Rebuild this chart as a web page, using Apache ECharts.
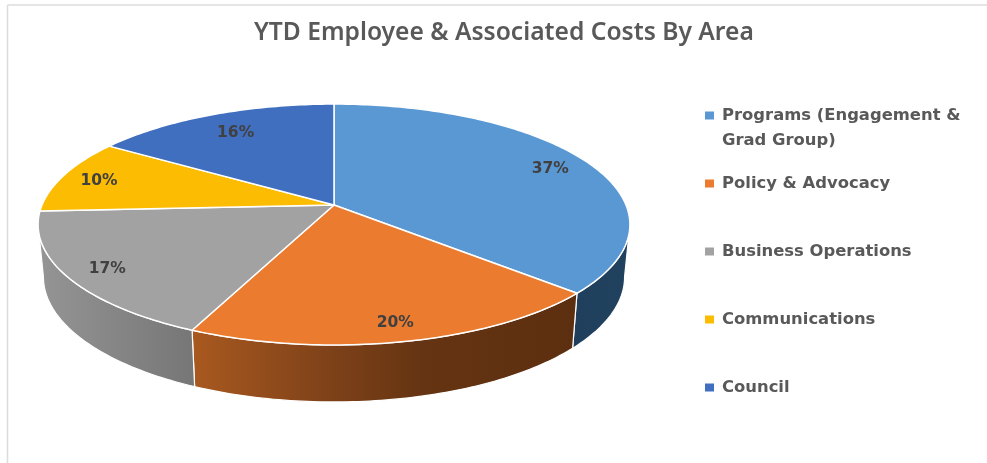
<!DOCTYPE html>
<html>
<head>
<meta charset="utf-8">
<style>html,body{margin:0;padding:0;background:#fff}#c{width:987px;height:463px}</style>
<script src="https://cdn.jsdelivr.net/npm/echarts@6/dist/echarts.min.js"></script>
</head>
<body>
<div id="c"></div>
<script>
const titleText = 'YTD Employee & Associated Costs By Area';
const categories = ['Programs (Engagement & Grad Group)', 'Policy & Advocacy', 'Business Operations', 'Communications', 'Council'];
const legendLabels = ['\u00a0\nPrograms (Engagement &\nGrad Group)', 'Policy & Advocacy', 'Business Operations', 'Communications', 'Council'];
const values = [36.7, 20.1, 17.4, 10.0, 15.8];
const topColors = ['#5A98D4', '#EA7B2F', '#A2A2A2', '#FBBC02', '#416FBF'];
const wallStops = [
  [[0, '#1f3f5c'], [1, '#21425f']],
  [[0, '#a9591f'], [0.35, '#7f4219'], [0.6, '#653412'], [1, '#5c2f10']],
  [[0, '#959595'], [1, '#767676']],
  [[0, '#99730a'], [1, '#99730a']],
  [[0, '#2a4476'], [1, '#2a4476']]
];
const labelReach = [0.85, 0.87, 0.87, 0.87, 0.8];
const legendTops = [115, 183, 251, 319, 387];

// projected-circle geometry of the tilted pie
const geo = {cx: 334, cy: 205, a: 117.3, b: 292, k: -0.162, depth: 51.6, ringX: 0.982, ringY: 1.0385};
const wallFrom = Math.acos(geo.k), wallTo = 2 * Math.PI - wallFrom;
const total = values.reduce((s, v) => s + v, 0);

function project(theta, r, ring) {
  const u = Math.sin(theta) * r, v = -Math.cos(theta) * r, den = 1 + geo.k * v;
  return [
    geo.cx + geo.b * u / den * (ring ? geo.ringX : 1),
    geo.cy + geo.a * v / den * (ring ? geo.ringY : 1) + (ring ? geo.depth : 0)
  ];
}
function arc(t0, t1, ring) {
  const n = Math.max(2, Math.ceil(Math.abs(t1 - t0) * 60)), pts = [];
  for (let i = 0; i <= n; i++) pts.push(project(t0 + (t1 - t0) * i / n, 1, ring));
  return pts;
}

function makeRender(i) {
  return function (params, api) {
    const before = values.slice(0, i).reduce((s, v) => s + v, 0);
    const t0 = before / total * 2 * Math.PI;
    const t1 = t0 + api.value(0) / total * 2 * Math.PI;
    const children = [];
    const w0 = Math.max(t0, wallFrom), w1 = Math.min(t1, wallTo);
    if (w1 > w0) {
      children.push({
        type: 'polygon',
        shape: {points: arc(w0, w1, false).concat(arc(w1, w0, true))},
        style: {
          fill: {type: 'linear', x: 0, y: 0, x2: 1, y2: 0,
            colorStops: wallStops[i].map(s => ({offset: s[0], color: s[1]}))},
          stroke: '#ffffff', lineWidth: 1.2, lineJoin: 'round'
        }
      });
    }
    children.push({
      type: 'polygon',
      z2: 5,
      shape: {points: [[geo.cx, geo.cy]].concat(arc(t0, t1, false))},
      style: {fill: topColors[i], stroke: '#ffffff', lineWidth: 1.5, lineJoin: 'round'}
    });
    const p = project((t0 + t1) / 2, labelReach[i], false);
    children.push({
      type: 'text',
      z2: 50,
      x: p[0] + 1.5, y: p[1] + 2,
      style: {
        text: Math.round(api.value(0) / total * 100) + '%',
        fill: '#404040', font: 'bold 15.5px "DejaVu Sans"', align: 'center', verticalAlign: 'middle'
      }
    });
    return {type: 'group', children: children};
  };
}

const chart = echarts.init(document.getElementById('c'));
chart.setOption({
  animation: false,
  backgroundColor: '#ffffff',
  color: topColors,
  title: {
    text: titleText, left: 254, top: 20, padding: 0,
    textStyle: {color: '#595959', fontFamily: 'Noto Sans', fontWeight: 600, fontSize: 24.6}
  },
  legend: categories.map((name, i) => ({
    data: [name],
    orient: 'vertical',
    left: 705,
    top: legendTops[i] - (i === 0 ? 37 : 12),
    padding: 0,
    itemWidth: 9, itemHeight: 8,
    icon: 'rect',
    selectedMode: false,
    formatter: () => legendLabels[i],
    textStyle: {color: '#595959', fontFamily: 'DejaVu Sans', fontWeight: 'bold', fontSize: 16.4, lineHeight: 25, padding: [0, 0, 0, 3]}
  })),
  graphic: [
    {type: 'line', shape: {x1: 7.5, y1: 5, x2: 987, y2: 5}, style: {stroke: '#dcdcdc', lineWidth: 1.5}},
    {type: 'line', shape: {x1: 7.5, y1: 5, x2: 7.5, y2: 463}, style: {stroke: '#dcdcdc', lineWidth: 1.5}}
  ],
  series: categories.map((name, i) => ({
    type: 'custom',
    name: name,
    coordinateSystem: 'none',
    itemStyle: {color: topColors[i]},
    renderItem: makeRender(i),
    data: [[values[i]]],
    silent: true,
    clip: false
  }))
});
</script>
</body>
</html>
